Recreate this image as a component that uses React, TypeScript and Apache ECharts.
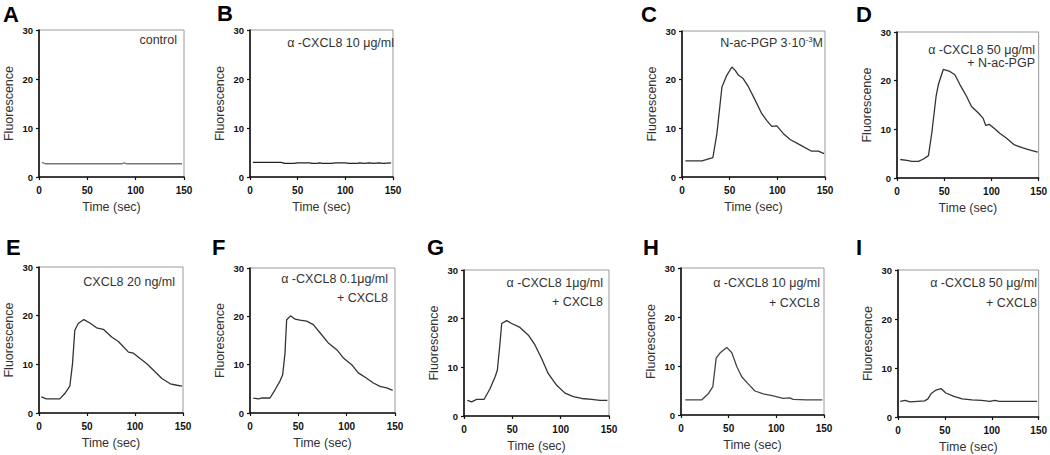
import React, { useEffect, useRef } from "react";
import * as echarts from "echarts";

// ---- data ----
const xTickValues = [0, 50, 100, 150];
const yTickValues = [0, 10, 20, 30];
const xAxisTitle = "Time (sec)";
const yAxisTitle = "Fluorescence";

const curveA: number[][] = [[3, 3.0], [7, 2.7], [40, 2.7], [86, 2.7], [88, 2.9], [91, 2.7], [120, 2.7], [148, 2.7]];
const curveB: number[][] = [[3, 3.0], [20, 3.0], [33, 3.0], [36, 2.8], [46, 2.8], [50, 2.9], [62, 2.9], [65, 2.8], [70, 2.8], [73, 2.9], [76, 2.8], [85, 2.8], [90, 2.9], [100, 2.9], [104, 2.8], [112, 2.8], [115, 2.9], [120, 2.8], [125, 2.9], [130, 2.8], [135, 2.9], [140, 2.8], [148, 2.9]];
const curveC: number[][] = [[3.5, 3.3], [21, 3.3], [32.4, 4.0], [36.6, 8.9], [41.9, 18.5], [47, 20.9], [52.3, 22.6], [55.8, 21.9], [59.3, 20.9], [63.8, 20.3], [69.8, 18.5], [76.7, 15.8], [83.7, 13.0], [89, 11.6], [94.2, 10.4], [99.4, 10.5], [106.4, 8.9], [113.4, 7.7], [123.8, 6.6], [136, 5.3], [143, 5.3], [149, 4.8]];
const curveD: number[][] = [[3.5, 3.8], [10.5, 3.6], [15.8, 3.4], [22.8, 3.4], [28, 3.9], [33.3, 4.6], [36.8, 9.2], [41.4, 16.8], [43.8, 19.2], [49, 22.3], [56, 21.9], [61.3, 21.2], [66.6, 19.2], [73.6, 16.8], [78.9, 14.7], [85.9, 13.4], [91.1, 12.3], [94, 10.8], [98, 11.0], [103.4, 10.1], [108.7, 9.2], [115.7, 8.2], [124.4, 6.8], [133.2, 6.2], [142, 5.7], [149, 5.3]];
const curveE: number[][] = [[2.4, 3.3], [7.7, 2.9], [21.6, 2.9], [26.9, 4.0], [32.1, 5.5], [34.9, 10.1], [37.3, 17.0], [40.8, 18.4], [46.7, 19.2], [53, 18.5], [60, 17.5], [67, 17.2], [75.7, 15.6], [82.7, 14.7], [93.2, 12.5], [98.4, 12.3], [105.3, 11.2], [112.3, 10.1], [119.3, 8.8], [128, 7.1], [136.7, 6.0], [143.7, 5.7], [149, 5.5]];
const curveF: number[][] = [[3.4, 3.1], [8.6, 2.9], [12, 3.1], [20.7, 3.1], [25.9, 4.8], [31, 6.6], [33.8, 7.9], [36.2, 12.4], [37.9, 19.3], [42, 20.1], [46.6, 19.4], [51.7, 19.2], [58.6, 19.0], [65.5, 18.3], [72.4, 16.6], [81, 14.5], [89.7, 13.1], [96.6, 11.4], [105.2, 10.0], [112, 8.3], [120.7, 7.2], [127.6, 6.2], [134.5, 5.5], [141.4, 5.2], [147.6, 4.7]];
const curveG: number[][] = [[3.4, 3.2], [7.9, 2.9], [13.1, 3.4], [20.7, 3.4], [26.9, 5.6], [32.1, 8.0], [34.5, 9.4], [37.2, 14.9], [39, 19.0], [44.1, 19.6], [49.3, 19.0], [57.9, 18.2], [66.6, 16.6], [73.4, 14.6], [80.3, 11.8], [87.2, 8.7], [95.9, 6.3], [104.5, 4.7], [113.1, 4.0], [121.7, 3.6], [132.1, 3.4], [140.7, 3.2], [148.3, 3.2]];
const curveH: number[][] = [[4.5, 3.1], [21.9, 3.1], [28.9, 4.4], [33.4, 5.8], [36.9, 11.6], [41.1, 12.7], [48, 13.8], [53.3, 12.7], [58.5, 9.9], [63.7, 7.8], [70.7, 6.3], [77.6, 4.9], [86.3, 4.3], [96.8, 3.9], [107.2, 3.4], [114.2, 3.5], [117.6, 3.2], [131.6, 3.1], [148.3, 3.1]];
const curveI: number[][] = [[2.4, 3.2], [7.6, 3.4], [12.8, 3.1], [28.5, 3.3], [31.9, 3.7], [35.4, 4.8], [40.6, 5.5], [45.8, 5.8], [51, 4.9], [59.7, 4.2], [68.4, 3.7], [78.8, 3.5], [89.2, 3.4], [97.9, 3.2], [103.1, 3.4], [108.3, 3.2], [124, 3.2], [148.3, 3.2]];

const panelLetters = ["A", "B", "C", "D", "E", "F", "G", "H", "I"];
const panelCurves = [curveA, curveB, curveC, curveD, curveE, curveF, curveG, curveH, curveI];
const panelNotes: string[][] = [
  ["control"],
  ["α -CXCL8 10 μg/ml"],
  ["N-ac-PGP 3·10{sup|-3}M"],
  ["α -CXCL8 50 μg/ml", "+ N-ac-PGP"],
  ["CXCL8 20 ng/ml"],
  ["α -CXCL8 0.1μg/ml", "+ CXCL8"],
  ["α -CXCL8 1μg/ml", "+ CXCL8"],
  ["α -CXCL8 10 μg/ml", "+ CXCL8"],
  ["α -CXCL8 50 μg/ml", "+ CXCL8"],
];

// ---- layout (pixels) ----
const gridBoxes = [
  { left: 39, top: 30, width: 145, height: 147 },
  { left: 250, top: 30, width: 143, height: 147 },
  { left: 682, top: 31, width: 143, height: 146 },
  { left: 897, top: 32, width: 142, height: 146 },
  { left: 39, top: 267, width: 144, height: 146 },
  { left: 250, top: 268, width: 145, height: 145 },
  { left: 464, top: 270, width: 145, height: 146 },
  { left: 681, top: 268, width: 143, height: 147 },
  { left: 898, top: 270, width: 144, height: 147 },
];
const letterPos = [
  [3, 3], [217, 2], [641, 3], [856, 3],
  [6, 236], [212, 236], [427, 236], [643, 236], [856, 236],
];
const notePos = [
  { x: 177, y: [40] },
  { x: 394, y: [43] },
  { x: 823, y: [43] },
  { x: 1035, y: [50, 63] },
  { x: 175, y: [282] },
  { x: 388, y: [279, 298] },
  { x: 603, y: [283, 302] },
  { x: 820, y: [283, 303] },
  { x: 1037, y: [283, 303] },
];
const lineColors = ["#777", "#222", "#333", "#333", "#333", "#333", "#333", "#444", "#333"];

const FONT = "Liberation Sans, Arial, Helvetica, sans-serif";

export default function App() {
  const ref = useRef<HTMLDivElement>(null);
  useEffect(() => {
    if (!ref.current) return;
    const chart = echarts.init(ref.current, undefined, { renderer: "svg" });
    const grids = gridBoxes.map((g) => ({
      ...g,
      show: true,
      borderColor: "#9a9a9a",
      borderWidth: 1,
      backgroundColor: "transparent",
    }));
    const axisLine = { show: true, lineStyle: { color: "#111", width: 1.6 } };
    const axisTick = { show: true, inside: false, length: 3, lineStyle: { color: "#111", width: 1.2 } };
    const xAxes = gridBoxes.map((_, i) => ({
      type: "value",
      gridIndex: i,
      min: 0,
      max: 150,
      interval: 50,
      axisLine,
      axisTick,
      splitLine: { show: false },
      axisLabel: {
        fontSize: 10,
        fontWeight: "bold",
        color: "#111",
        fontFamily: FONT,
        margin: 8,
        formatter: (v: number) => (xTickValues.includes(v) ? String(v) : ""),
      },
      name: xAxisTitle,
      nameLocation: "middle",
      nameGap: 23,
      nameTextStyle: { fontSize: 12.5, fontWeight: "normal", color: "#333", fontFamily: FONT },
    }));
    const yAxes = gridBoxes.map((_, i) => ({
      type: "value",
      gridIndex: i,
      min: 0,
      max: 30,
      interval: 10,
      axisLine,
      axisTick,
      splitLine: { show: false },
      axisLabel: {
        fontSize: 9.5,
        fontWeight: "bold",
        color: "#111",
        fontFamily: FONT,
        margin: 6,
        formatter: (v: number) => (yTickValues.includes(v) ? String(v) : ""),
      },
      name: yAxisTitle,
      nameLocation: "middle",
      nameGap: 24,
      nameRotate: 90,
      nameTextStyle: { fontSize: 12.5, fontWeight: "normal", color: "#333", fontFamily: FONT },
    }));
    const series = panelCurves.map((c, i) => ({
      type: "line",
      xAxisIndex: i,
      yAxisIndex: i,
      data: c,
      showSymbol: false,
      symbol: "none",
      smooth: false,
      lineStyle: { color: lineColors[i], width: 1.3 },
      silent: true,
    }));
    const graphics: any[] = [];
    panelLetters.forEach((L, i) => {
      graphics.push({
        type: "text",
        x: letterPos[i][0],
        y: letterPos[i][1],
        style: {
          text: L,
          font: `bold 22px ${FONT}`,
          fill: "#000",
          align: "left",
          verticalAlign: "top",
        },
      });
    });
    panelNotes.forEach((lines, i) => {
      lines.forEach((t, j) => {
        graphics.push({
          type: "text",
          x: notePos[i].x,
          y: notePos[i].y[j],
          style: {
            text: t,
            font: `12.5px ${FONT}`,
            fill: "#333",
            align: "right",
            verticalAlign: "middle",
            rich: {
              sup: { fontSize: 8, verticalAlign: "bottom", padding: [0, 0, 8, 0], fill: "#333", fontFamily: FONT },
            },
          },
        });
      });
    });
    chart.setOption({
      animation: false,
      backgroundColor: "#fff",
      grid: grids,
      xAxis: xAxes,
      yAxis: yAxes,
      series,
      graphic: graphics,
    } as any);
    return () => chart.dispose();
  }, []);
  return (
    <div
      ref={ref}
      style={{ position: "fixed", left: 0, top: 0, width: 1050, height: 455, background: "#fff" }}
    />
  );
}
